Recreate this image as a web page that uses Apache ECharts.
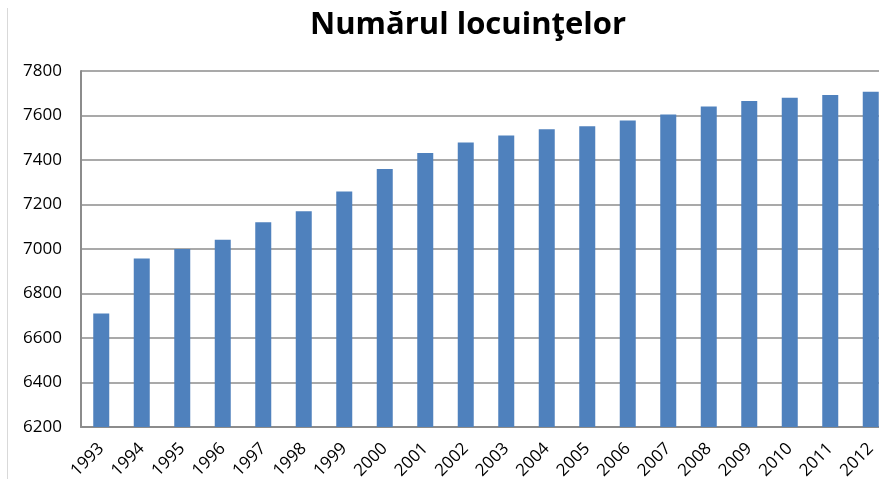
<!DOCTYPE html>
<html>
<head>
<meta charset="utf-8">
<script src="https://cdn.jsdelivr.net/npm/echarts@6/dist/echarts.min.js"></script>
<style>
  html, body { margin: 0; padding: 0; background: #fff; }
  #main { width: 879px; height: 479px; }
</style>
</head>
<body>
<div id="main"></div>
<script>
// ani / numarul locuintelor
var years = ['1993', '1994', '1995', '1996', '1997', '1998', '1999', '2000', '2001', '2002',
  '2003', '2004', '2005', '2006', '2007', '2008', '2009', '2010', '2011', '2012']
var locuinte = [6710, 6957, 7000, 7042, 7120, 7170, 7258, 7360, 7431, 7479,
  7510, 7538, 7552, 7577, 7605, 7641, 7665, 7680, 7692, 7707]
var yTicks = [6200, 6400, 6600, 6800, 7000, 7200, 7400, 7600, 7800]

var font = '"Open Sans", sans-serif'
var axisGray = '#8c8c8c'

var option = {
  animation: false,
  backgroundColor: '#fff',
  title: {
    text: 'Numărul locuinţelor',
    left: 463,
    textAlign: 'center',
    top: 5,
    textStyle: { fontFamily: font, fontWeight: 'bold', fontSize: 31, color: '#000' }
  },
  graphic: [
    {
      type: 'line',
      shape: { x1: 7.5, y1: 8, x2: 7.5, y2: 479 },
      style: { stroke: '#d9d9d9', lineWidth: 1 }
    }
  ],
  grid: { left: 81, top: 71, bottom: 52, width: 810, outerBoundsMode: 'none' },
  xAxis: {
    type: 'category',
    data: years,
    axisTick: { show: false },
    axisLine: { lineStyle: { color: axisGray, width: 2 } },
    axisLabel: {
      interval: 0,
      rotate: 45,
      margin: 19,
      color: '#000',
      fontFamily: font,
      fontSize: 17
    }
  },
  yAxis: {
    type: 'value',
    min: yTicks[0],
    max: yTicks[yTicks.length - 1],
    interval: 200,
    axisLine: { show: true, lineStyle: { color: axisGray, width: 2 } },
    axisTick: { show: false },
    splitLine: { lineStyle: { color: axisGray, width: 1.5 } },
    axisLabel: {
      margin: 19,
      color: '#000',
      fontFamily: font,
      fontSize: 17,
      formatter: function (v) { return String(v) }
    }
  },
  series: [
    {
      type: 'bar',
      data: locuinte,
      barWidth: 16,
      itemStyle: { color: '#4f81bd' }
    }
  ]
}

var myChart = echarts.init(document.getElementById('main'))
myChart.setOption(option)
</script>
</body>
</html>
